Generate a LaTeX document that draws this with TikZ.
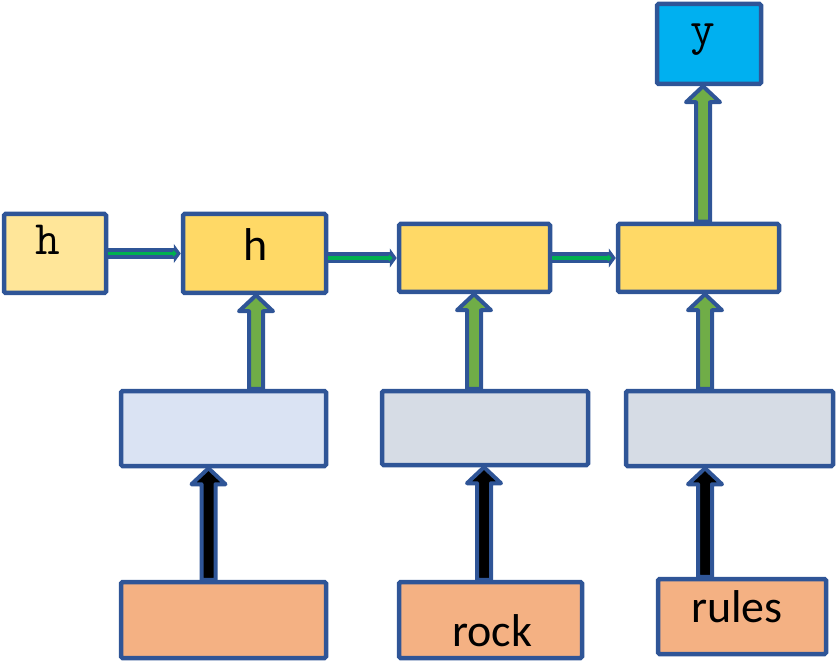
\documentclass[tikz,border=0pt]{standalone}
\usepackage{fontspec}
\setmainfont{Carlito}
\usetikzlibrary{calc, arrows.meta}

\definecolor{edgeblue}{HTML}{2F5597}
\definecolor{hidpale}{HTML}{FFE699}
\definecolor{hidgold}{HTML}{FFD966}
\definecolor{outcyan}{HTML}{00B0F0}
\definecolor{embone}{HTML}{DAE3F3}
\definecolor{embgrey}{HTML}{D6DCE5}
\definecolor{wordsalmon}{HTML}{F4B183}
\definecolor{shaftgreen}{HTML}{70AD47}
\definecolor{linegreen}{HTML}{00B050}

\tikzset{
  box/.style={draw=edgeblue, line width=4.5pt, rounded corners=1.5pt, inner sep=0pt},
  blockedge/.style={draw=edgeblue, line width=4pt, line join=round},
  wordtxt/.style={font=\fontsize{46}{50}\selectfont, inner sep=0pt, anchor=base},
  monotxt/.style={font=\fontsize{48}{52}\selectfont\ttfamily, inner sep=0pt, anchor=base},
  recur/.style={edgeblue, line width=11pt, -{Triangle[length=7pt,width=19pt]}},
  recurcore/.style={linegreen, line width=3.5pt, shorten >=4pt, -{Triangle[length=4pt,width=7pt]}}
}

% vertical block arrow: fill, from, to
\newcommand{\blockarrow}[3]{%
  \filldraw[blockedge, fill=#1] let \p1=(#2), \p2=(#3) in
    (\x1-7pt,\y1) -- (\x1-7pt,\y2-16pt) -- (\x1-17pt,\y2-16pt) -- (\x1,\y2)
    -- (\x1+17pt,\y2-16pt) -- (\x1+7pt,\y2-16pt) -- (\x1+7pt,\y1) -- cycle;}

\begin{document}
\begin{tikzpicture}[x=1pt, y=1pt]
\useasboundingbox (0,0) rectangle (837,662);

% hidden states
\node[box, fill=hidpale, minimum width=102pt, minimum height=79pt] (h0) at (55,408.5) {};
\node[box, fill=hidgold, minimum width=143pt, minimum height=79pt] (h1) at (254.5,408.5) {};
\node[box, fill=hidgold, minimum width=151pt, minimum height=68pt] (h2) at (474.5,404) {};
\node[box, fill=hidgold, minimum width=161pt, minimum height=68pt] (h3) at (698.5,404) {};
\node[box, fill=outcyan, minimum width=104pt, minimum height=80pt] (yb) at (709,618) {};

% embeddings
\node[box, fill=embone, minimum width=205pt, minimum height=75pt] (e1) at (223.5,233.5) {};
\node[box, fill=embgrey, minimum width=206pt, minimum height=74pt] (e2) at (485,234) {};
\node[box, fill=embgrey, minimum width=207pt, minimum height=75pt] (e3) at (729.5,233.5) {};

% words
\node[box, fill=wordsalmon, minimum width=205pt, minimum height=76pt] (w1) at (223.5,42) {};
\node[box, fill=wordsalmon, minimum width=183pt, minimum height=76pt] (w2) at (490.5,42) {};
\node[box, fill=wordsalmon, minimum width=168pt, minimum height=75pt] (w3) at (742,45.5) {};

% labels
\node[monotxt] (h0txt) at ($(h0.center)+(-7,-1.5)$) {h};
\node[wordtxt] (h1txt) at ($(h1.center)+(1.5,-7.5)$) {h};
\node[monotxt] (ytxt) at ($(yb.center)+(-6,-1)$) {y};
\node[wordtxt] (w2txt) at ($(w2.center)+(1.5,-26)$) {rock};
\node[wordtxt] (w3txt) at ($(w3.center)+(-5,-5.5)$) {rules};

% recurrence
\draw[recur] (h0.east) -- (h1.west);
\draw[recurcore] (h0.east) -- (h1.west);
\draw[recur] (h1.east |- h2.west) -- (h2.west);
\draw[recurcore] (h1.east |- h2.west) -- (h2.west);
\draw[recur] (h2.east) -- (h3.west);
\draw[recurcore] (h2.east) -- (h3.west);

% embedding to hidden, hidden to output
\blockarrow{shaftgreen}{$(e1.north)+(32.5,0)$}{h1.south}
\blockarrow{shaftgreen}{$(e2.north)+(-11,0)$}{h2.south}
\blockarrow{shaftgreen}{$(e3.north)+(-24.5,0)$}{h3.south}
\blockarrow{shaftgreen}{$(h3.north)+(4.5,0)$}{yb.south}

% word to embedding
\blockarrow{black}{$(w1.north)+(-15,0)$}{e1.south}
\blockarrow{black}{$(w2.north)+(-6.5,0)$}{e2.south}
\blockarrow{black}{$(w3.north)+(-37,0)$}{e3.south}
\end{tikzpicture}
\end{document}
